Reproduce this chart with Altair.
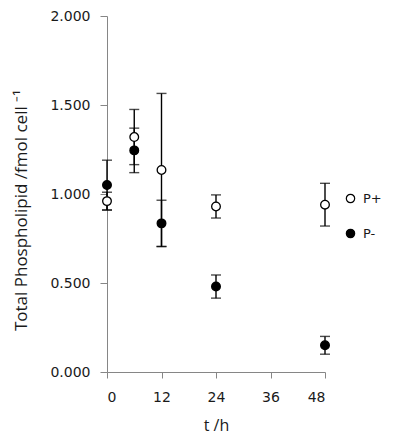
import altair as alt
import pandas as pd

t_hours = [0, 6, 12, 24, 48]
p_plus = [0.96, 1.32, 1.135, 0.93, 0.94]
p_plus_err = [0.05, 0.155, 0.43, 0.065, 0.12]
p_minus = [1.05, 1.245, 0.835, 0.48, 0.15]
p_minus_err = [0.14, 0.125, 0.13, 0.065, 0.05]
series = ["P+", "P-"]
x_ticks = [0, 12, 24, 36, 48]
y_ticks = [0.0, 0.5, 1.0, 1.5, 2.0]

rows = []
for name, vals, errs in [("P+", p_plus, p_plus_err), ("P-", p_minus, p_minus_err)]:
    for t, v, e in zip(t_hours, vals, errs):
        rows.append({"t": t, "v": v, "lo": v - e, "hi": v + e, "s": name})
df = pd.DataFrame(rows)

AX = "#868686"
TXT = "#1a1a1a"
LABEL_FONT = "DejaVu Sans"
TITLE_FONT = "Open Sans"

x = alt.X("t:Q", scale=alt.Scale(domain=[0, 48], nice=False),
          axis=alt.Axis(values=x_ticks, title="t /h", grid=False, domainColor=AX, tickColor=AX,
                        tickSize=6, labelPadding=12, labelFont=LABEL_FONT, labelFontSize=14,
                        labelColor=TXT, titleFont=TITLE_FONT, titleFontSize=16,
                        titleFontWeight="normal", titleColor=TXT, titlePadding=13))
y_axis = alt.Axis(values=y_ticks, format=".3f", title="Total Phospholipid /fmol cell \u207b\u00b9",
                  grid=False, domainColor=AX, tickColor=AX, tickSize=7, labelPadding=10,
                  labelFont=LABEL_FONT, labelFontSize=14, labelColor=TXT,
                  titleFont=TITLE_FONT, titleFontSize=17, titleFontWeight="normal",
                  titleColor=TXT, titleX=-86, titleY=194, titleAngle=270,
                  titleAlign="center", titleBaseline="middle")
yscale = alt.Scale(domain=[0, 2], nice=False)

base = alt.Chart(df)
bars = base.mark_rule(color="black", strokeWidth=1.4).encode(
    x=x, y=alt.Y("lo:Q", scale=yscale, axis=y_axis), y2="hi:Q")
cap_lo = base.mark_tick(color="black", thickness=1.4, size=10, orient="horizontal").encode(
    x="t:Q", y=alt.Y("lo:Q", scale=yscale))
cap_hi = base.mark_tick(color="black", thickness=1.4, size=10, orient="horizontal").encode(
    x="t:Q", y=alt.Y("hi:Q", scale=yscale))
pts = base.mark_point(shape="circle", size=75, stroke="black", strokeWidth=1.3, opacity=1,
                      filled=True).encode(
    x="t:Q", y=alt.Y("v:Q", scale=yscale),
    fill=alt.Fill("s:N", scale=alt.Scale(domain=series, range=["white", "black"]),
                  legend=alt.Legend(title=None, orient="none", legendX=237, legendY=176,
                                    symbolType="circle", symbolSize=70,
                                    symbolStrokeColor="black", symbolStrokeWidth=1.2,
                                    labelFont=LABEL_FONT, labelFontSize=13, labelColor=TXT,
                                    rowPadding=20, labelOffset=6)))

chart = alt.layer(bars, cap_lo, cap_hi, pts).properties(
    width=218, height=356,
    autosize=alt.AutoSizeParams(type="none"),
    padding={"left": 99, "top": 8, "right": 67, "bottom": 63},
).configure_view(stroke=None)

chart.save("out.html", embed_options={"renderer": "svg", "actions": False})
